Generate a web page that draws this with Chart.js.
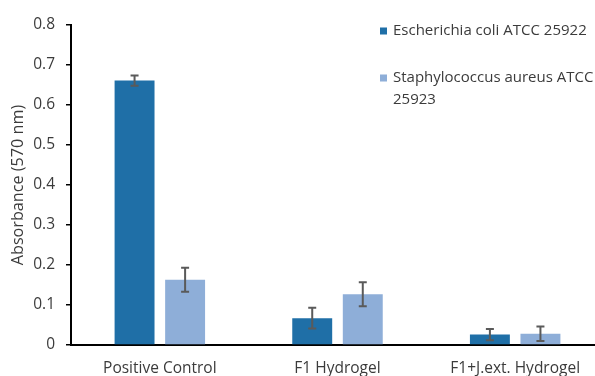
<!DOCTYPE html>
<html>
<head>
<meta charset="utf-8">
<script src="https://cdn.jsdelivr.net/npm/chart.js@4"></script>
<style>
  html, body { margin: 0; padding: 0; background: #fff; overflow: hidden; }
  #wrap { position: relative; width: 606px; height: 376px; }
</style>
</head>
<body>
<div id="wrap"><canvas id="c" width="606" height="376"></canvas></div>
<script>
const categories = ['Positive Control', 'F1 Hydrogel', 'F1+J.ext. Hydrogel'];
const ecoliLabel = 'Escherichia coli ATCC 25922';
const saureusLabel = 'Staphylococcus aureus ATCC 25923';
const ecoliValues = [0.661, 0.067, 0.026];
const ecoliErrors = [0.013, 0.026, 0.014];
const saureusValues = [0.163, 0.127, 0.028];
const saureusErrors = [0.030, 0.030, 0.018];
const yTicks = [0, 0.1, 0.2, 0.3, 0.4, 0.5, 0.6, 0.7, 0.8];

const FONT = '"Open Sans", "DejaVu Sans", sans-serif';
const TEXT = '#3b3b3b';

// Symmetric error whiskers with caps, drawn over each bar
const errorBars = {
  id: 'errorBars',
  afterDatasetsDraw(chart) {
    const ctx = chart.ctx;
    const y = chart.scales.y;
    ctx.save();
    ctx.strokeStyle = '#5a5a5a';
    ctx.lineWidth = 2;
    chart.data.datasets.forEach((ds, di) => {
      const meta = chart.getDatasetMeta(di);
      meta.data.forEach((bar, i) => {
        const v = ds.data[i], e = ds.errors[i];
        const top = y.getPixelForValue(v + e);
        const bot = y.getPixelForValue(v - e);
        const cx = bar.x, cap = 4;
        ctx.beginPath();
        ctx.moveTo(cx, top); ctx.lineTo(cx, bot);
        ctx.moveTo(cx - cap, top); ctx.lineTo(cx + cap, top);
        ctx.moveTo(cx - cap, bot); ctx.lineTo(cx + cap, bot);
        ctx.stroke();
      });
    });
    ctx.restore();
  }
};

// Legend in the upper right, labels wrapped to a fixed width
const sideLegend = {
  id: 'sideLegend',
  afterDraw(chart) {
    const ctx = chart.ctx;
    const x0 = 380, textX = 393, maxW = 212, lineH = 22;
    const rows = [31, 78];
    ctx.save();
    ctx.font = '15px ' + FONT;
    ctx.textBaseline = 'middle';
    ctx.textAlign = 'left';
    chart.data.datasets.forEach((ds, di) => {
      const words = ds.label.split(' ');
      const lines = [];
      let cur = '';
      words.forEach(w => {
        const t = cur ? cur + ' ' + w : w;
        if (ctx.measureText(t).width > maxW && cur) { lines.push(cur); cur = w; }
        else cur = t;
      });
      lines.push(cur);
      const yy = rows[di];
      ctx.fillStyle = ds.backgroundColor;
      ctx.fillRect(x0, yy - 3.5, 7, 7);
      ctx.fillStyle = TEXT;
      lines.forEach((ln, li) => ctx.fillText(ln, textX, yy + li * lineH));
    });
    ctx.restore();
  }
};

new Chart(document.getElementById('c'), {
  type: 'bar',
  data: {
    labels: categories,
    datasets: [
      { label: ecoliLabel, data: ecoliValues, errors: ecoliErrors,
        backgroundColor: '#1f6fa7', categoryPercentage: 0.569, barPercentage: 0.79 },
      { label: saureusLabel, data: saureusValues, errors: saureusErrors,
        backgroundColor: '#8eaed8', categoryPercentage: 0.569, barPercentage: 0.79 }
    ]
  },
  options: {
    responsive: false,
    animation: false,
    layout: { padding: { top: 25, right: 2, left: 0, bottom: 0 } },
    plugins: { legend: { display: false }, tooltip: { enabled: false } },
    scales: {
      x: {
        grid: { display: false, drawTicks: false },
        border: { color: '#000', width: 2 },
        ticks: { color: TEXT, font: { family: FONT, size: 15.5 }, padding: 14, maxRotation: 0 },
        afterFit(s) { s.height = 31; }
      },
      y: {
        min: 0, max: 0.8,
        afterBuildTicks(s) { s.ticks = yTicks.map(v => ({ value: v })); },
        grid: { display: true, drawOnChartArea: false, drawTicks: true, tickLength: 5, color: '#000', lineWidth: 1.5 },
        border: { color: '#000', width: 2 },
        ticks: { color: TEXT, font: { family: FONT, size: 15.5 }, padding: 11,
                 callback: v => String(Math.round(v * 10) / 10) },
        title: { display: true, text: 'Absorbance (570 nm)', color: TEXT,
                 font: { family: FONT, size: 16.2 }, padding: { top: 9, bottom: 0 } },
        afterFit(s) { s.width = 71; }
      }
    }
  },
  plugins: [errorBars, sideLegend]
});
</script>
</body>
</html>
